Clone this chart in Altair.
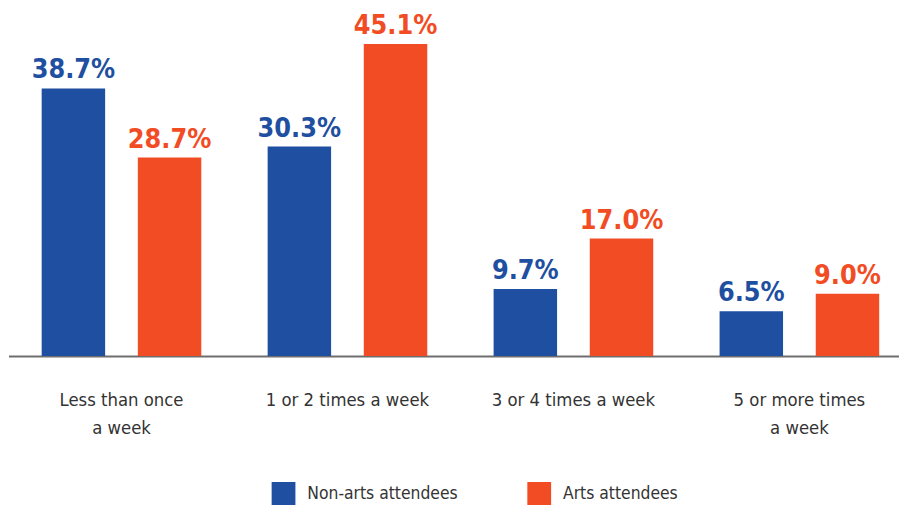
import altair as alt
import pandas as pd

categories = ["Less than once\na week", "1 or 2 times a week", "3 or 4 times a week", "5 or more times\na week"]
series = ["Non-arts attendees", "Arts attendees"]
non_arts = [38.7, 30.3, 9.7, 6.5]
arts = [28.7, 45.1, 17.0, 9.0]
colors = ["#1f4fa0", "#f14c24"]

rows = []
for c, a, b in zip(categories, non_arts, arts):
    rows.append({"cat": c, "series": series[0], "value": a})
    rows.append({"cat": c, "series": series[1], "value": b})
df = pd.DataFrame(rows)
df["label"] = df["value"].map(lambda v: f"{v:.1f}%")

FONT = "DejaVu Sans Condensed, sans-serif"

x = alt.X(
    "cat:N", sort=categories, title=None,
    scale=alt.Scale(range=[0.5, 912.5], paddingInner=0, paddingOuter=0),
    axis=alt.Axis(
        labelExpr="split(datum.label, '\\n')", labelAngle=0, ticks=False,
        domainColor="#6e6e6e", domainWidth=2, labelFontSize=18.5,
        labelColor="#333333", labelFont=FONT, labelPadding=35,
        labelLineHeight=28.5, labelLimit=400,
    ),
)
xo = alt.XOffset("series:N", sort=series,
                 scale=alt.Scale(paddingInner=0.34, paddingOuter=0.345))
y = alt.Y("value:Q", scale=alt.Scale(domain=[0, 50]), axis=None)

color = alt.Color(
    "series:N", sort=series, title=None,
    scale=alt.Scale(domain=series, range=colors),
    legend=alt.Legend(
        orient="none", direction="horizontal", legendX=266, legendY=476,
        symbolType="square", symbolSize=576, symbolStrokeWidth=0,
        labelFont=FONT, labelFontSize=17.5, labelColor="#333333",
        labelOffset=12, columnPadding=70, padding=0, labelLimit=400,
    ),
)

bars = alt.Chart(df).mark_bar().encode(x=x, xOffset=xo, y=y, color=color)
text = alt.Chart(df).mark_text(
    baseline="alphabetic", dy=-10, fontSize=27, fontWeight="bold", font=FONT
).encode(
    x=x, xOffset=xo, y=y, text="label:N",
    color=alt.Color("series:N", scale=alt.Scale(domain=series, range=colors), legend=None),
)

chart = (
    alt.layer(bars, text)
    .properties(
        width=899, height=349,
        autosize=alt.AutoSizeParams(type="none"),
        padding={"left": 0, "right": 0, "top": 0, "bottom": 148},
    )
    .configure_view(strokeWidth=0)
)

chart.save("out.html", embed_options={"renderer": "svg", "actions": False})
